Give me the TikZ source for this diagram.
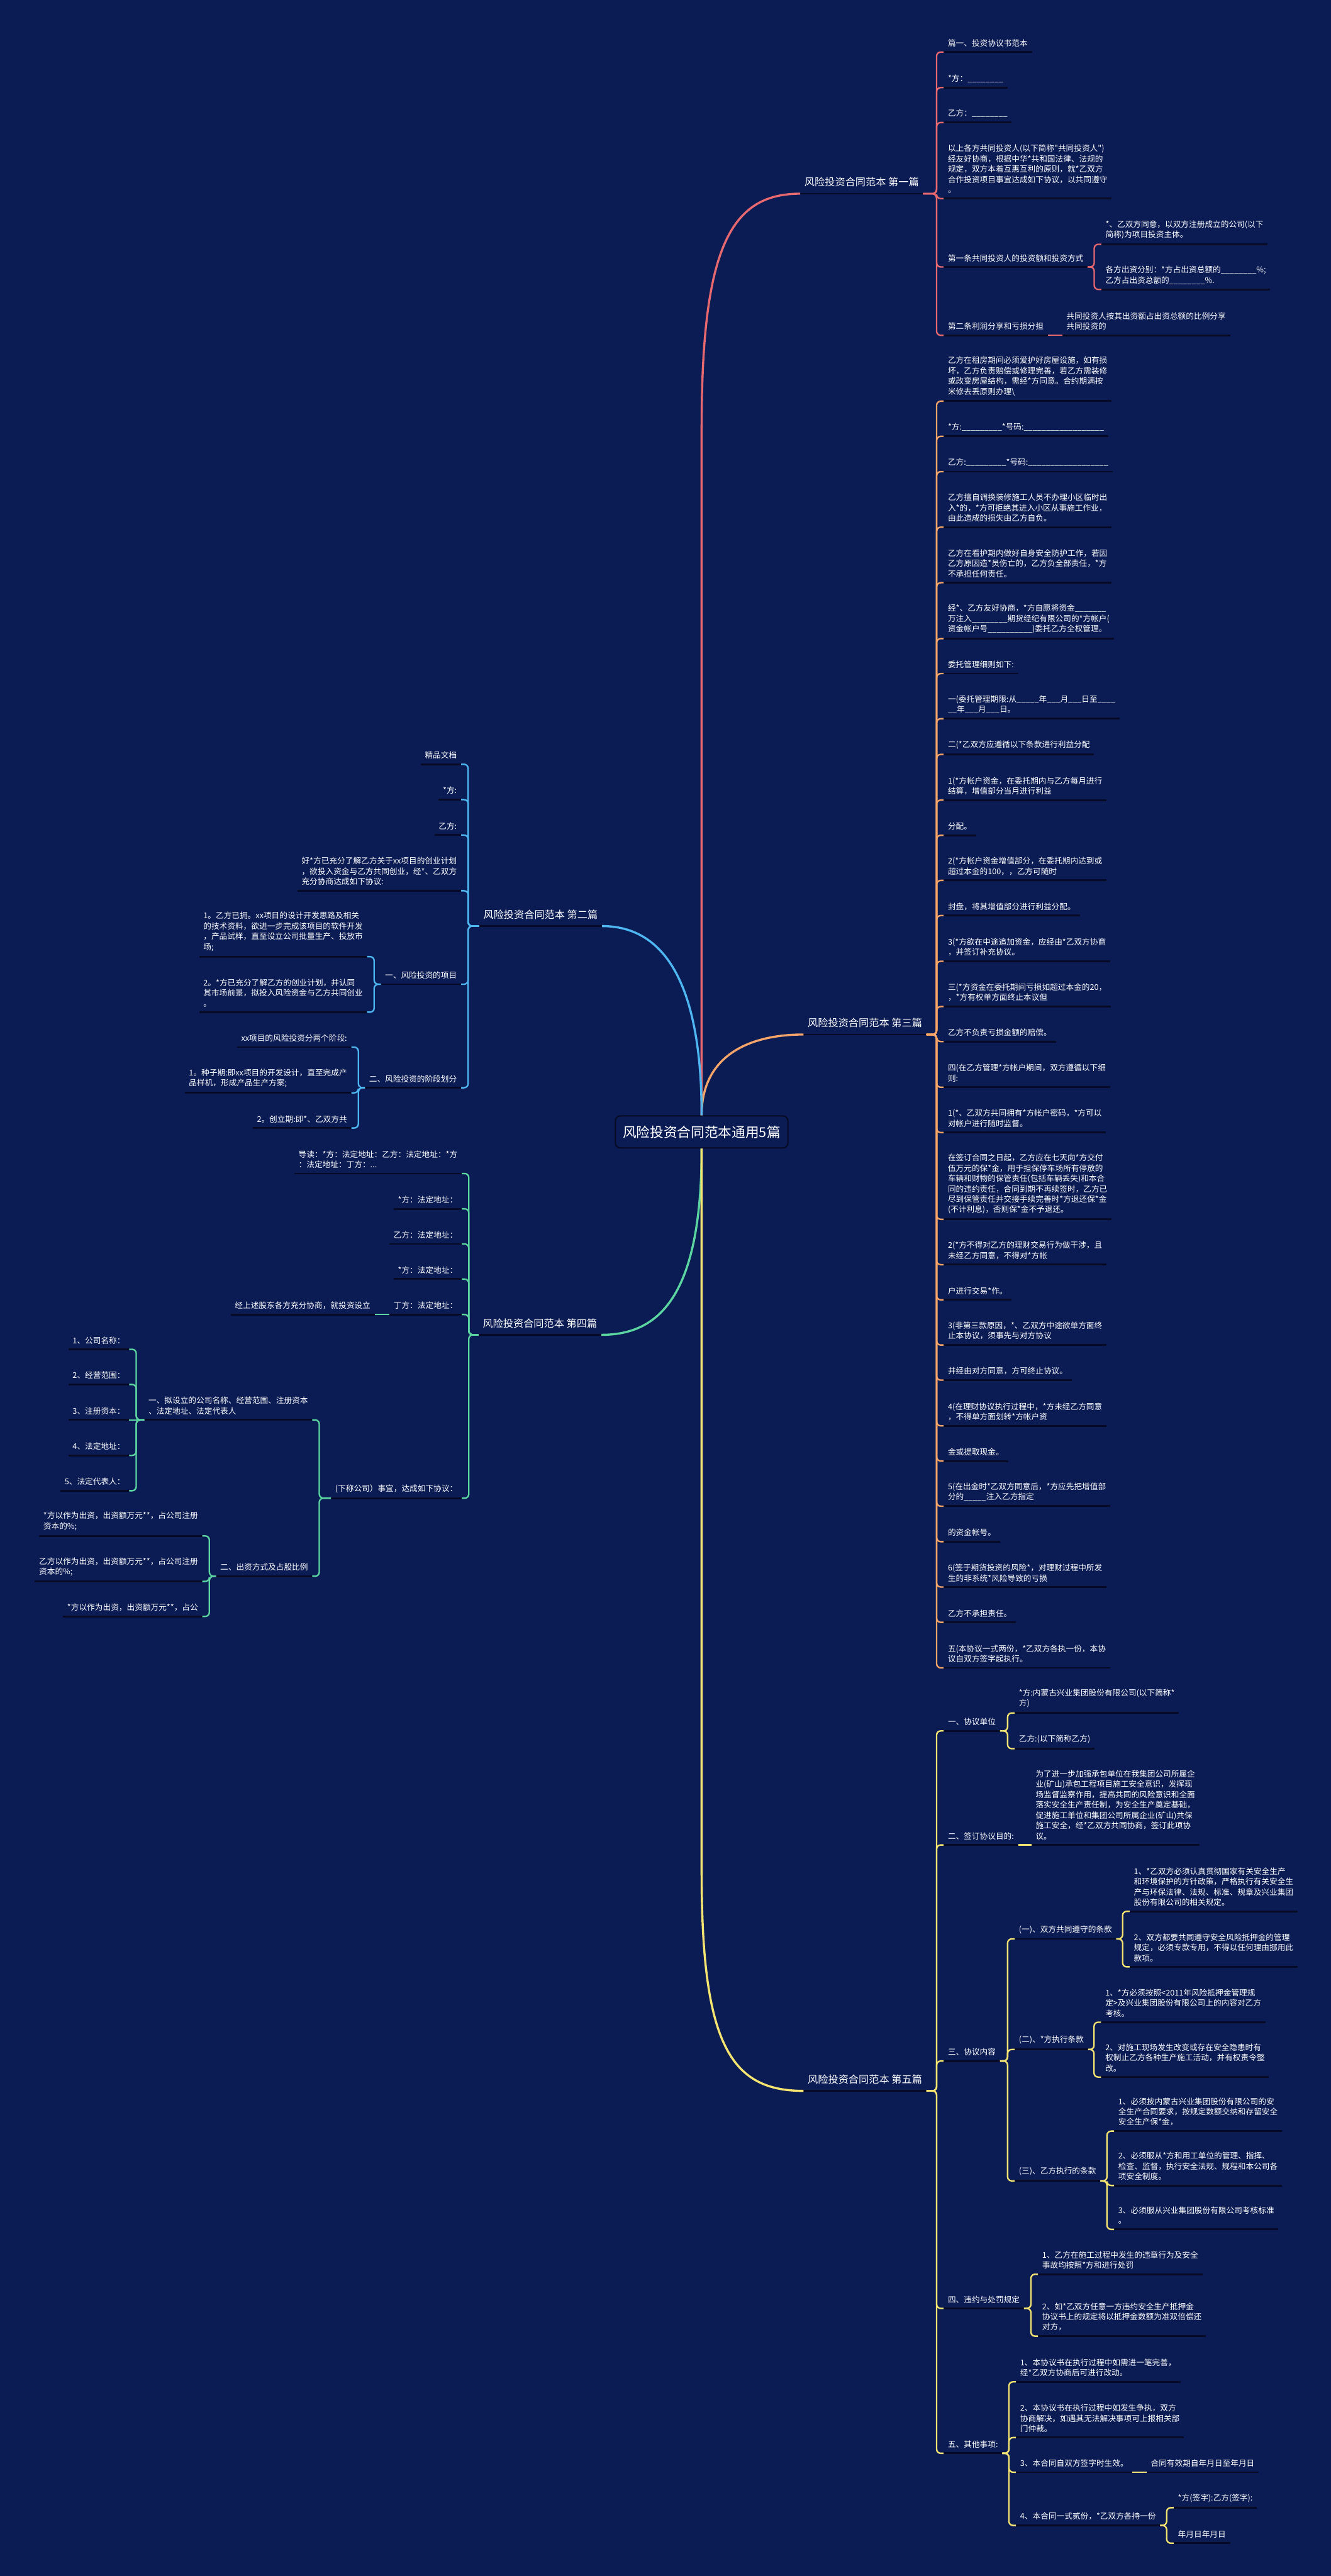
\documentclass[tikz,border=0pt]{standalone}
\usepackage{fontspec}
\newfontfamily\cjk{Noto Sans CJK SC}
\definecolor{bg}{RGB}{11,28,84}
\definecolor{ulc}{RGB}{6,10,36}
\definecolor{col1}{RGB}{232,104,112}
\definecolor{col2}{RGB}{78,182,240}
\definecolor{col3}{RGB}{246,164,104}
\definecolor{col4}{RGB}{92,214,160}
\definecolor{col5}{RGB}{246,228,112}
\newcommand\conR[3]{\draw[#1] (#2.south east) -| ([xshift=-4.3pt]#3.south west) -- (#3.south west);}
\newcommand\conL[3]{\draw[#1] (#2.south west) -| ([xshift=4.3pt]#3.south east) -- (#3.south east);}
\newcommand\conSR[3]{\draw[#1] (#2.south east) -- (#3.south west);}
\newcommand\conSL[3]{\draw[#1] (#2.south west) -- (#3.south east);}
\tikzset{
  ul/.style={draw=ulc,line width=1.1pt},
  txt/.style={font=\cjk\fontsize{4.85}{6.3}\selectfont,text=white,inner xsep=2.4pt,inner ysep=3pt,align=left,
     append after command={(\tikzlastnode.south west) edge[ul] (\tikzlastnode.south east)}},
  rnode/.style={txt,anchor=south west},
  lnode/.style={txt,anchor=south east},
  labtxt/.style={txt,font=\cjk\fontsize{6.2}{7.5}\selectfont,inner ysep=4pt},
  rlab/.style={labtxt,anchor=south west},
  llab/.style={labtxt,anchor=south east},
  titlebox/.style={draw=ulc,line width=0.8pt,fill=bg,rounded corners=3pt,minimum width=105pt,minimum height=19.5pt,inner sep=0pt,text=white,font=\cjk\fontsize{8.3}{10}\selectfont},
  c1/.style={draw=col1,line width=0.9pt,rounded corners=2.5pt},
  c2/.style={draw=col2,line width=0.9pt,rounded corners=2.5pt},
  c3/.style={draw=col3,line width=0.9pt,rounded corners=2.5pt},
  c4/.style={draw=col4,line width=0.9pt,rounded corners=2.5pt},
  c5/.style={draw=col5,line width=0.9pt,rounded corners=2.5pt},
  m1/.style={draw=col1,line width=1.3pt},
  m2/.style={draw=col2,line width=1.3pt},
  m3/.style={draw=col3,line width=1.3pt},
  m4/.style={draw=col4,line width=1.3pt},
  m5/.style={draw=col5,line width=1.3pt},
}
\begin{document}
\begin{tikzpicture}[x=1pt,y=-1pt]
\fill[bg] (0,0) rectangle (810,1568);
\useasboundingbox (0,0) rectangle (810,1568);

% title
\node[titlebox] (title) at (427,689) {风险投资合同范本通用5篇};

% ---------------- branch 1
\node[rlab] (b1) at (487,117.9) {风险投资合同范本 第一篇};
\node[rnode] (b1a) at (574.3,31.7) {篇一、投资协议书范本};
\node[rnode] (b1b) at (574.3,53.3) {*方：\_\_\_\_\_\_\_\_};
\node[rnode] (b1c) at (574.3,74.6) {乙方：\_\_\_\_\_\_\_\_};
\node[rnode] (b1d) at (574.3,120.9) {以上各方共同投资人(以下简称"共同投资人")\\经友好协商，根据中华*共和国法律、法规的\\规定，双方本着互惠互利的原则，就*乙双方\\合作投资项目事宜达成如下协议，以共同遵守\\。};
\node[rnode] (b1e) at (574.3,162.5) {第一条共同投资人的投资额和投资方式};
\node[rnode] (b1e1) at (670.2,148.7) {*、乙双方同意，以双方注册成立的公司(以下\\简称)为项目投资主体。};
\node[rnode] (b1e2) at (670.2,176.2) {各方出资分别：*方占出资总额的\_\_\_\_\_\_\_\_\%;\\乙方占出资总额的\_\_\_\_\_\_\_\_\%.};
\node[rnode] (b1f) at (574.3,204.1) {第二条利润分享和亏损分担};
\node[rnode] (b1f1) at (646.4,204.1) {共同投资人按其出资额占出资总额的比例分享\\共同投资的};

% ---------------- branch 2
\node[llab] (b2) at (366.4,563.7) {风险投资合同范本 第二篇};
\node[lnode] (b2a) at (280.6,465.2) {精品文档};
\node[lnode] (b2b) at (280.6,486.7) {*方:};
\node[lnode] (b2c) at (280.6,508.3) {乙方:};
\node[lnode] (b2d) at (280.6,542.2) {好*方已充分了解乙方关于xx项目的创业计划\\，欲投入资金与乙方共同创业，经*、乙双方\\充分协商达成如下协议:};
\node[lnode] (b2e) at (280.6,599.1) {一、风险投资的项目};
\node[lnode] (b2e1) at (223.4,582.3) {1。乙方已拥。xx项目的设计开发思路及相关\\的技术资料，欲进一步完成该项目的软件开发\\，产品试样，直至设立公司批量生产、投放市\\场;};
\node[lnode] (b2e2) at (223.4,616.1) {2。*方已充分了解乙方的创业计划，并认同\\其市场前景，拟投入风险资金与乙方共同创业\\。};
\node[lnode] (b2f) at (280.6,662.1) {二、风险投资的阶段划分};
\node[lnode] (b2f1) at (213.8,637.4) {xx项目的风险投资分两个阶段:};
\node[lnode] (b2f2) at (213.8,665.2) {1。种子期:即xx项目的开发设计，直至完成产\\品样机，形成产品生产方案;};
\node[lnode] (b2f3) at (213.8,686.6) {2。创立期:即*、乙双方共};

% ---------------- branch 3
\node[rlab] (b3) at (489,629.7) {风险投资合同范本 第三篇};
\node[rnode] (b3n1) at (574.3,244.2) {乙方在租房期间必须爱护好房屋设施，如有损\\坏，乙方负责赔偿或修理完善，若乙方需装修\\或改变房屋结构，需经*方同意。合约期满按\\米修去丢原则办理\textbackslash};
\node[rnode] (b3n2) at (574.3,265.6) {*方:\_\_\_\_\_\_\_\_\_*号码:\_\_\_\_\_\_\_\_\_\_\_\_\_\_\_\_\_\_};
\node[rnode] (b3n3) at (574.3,287.1) {乙方:\_\_\_\_\_\_\_\_\_*号码:\_\_\_\_\_\_\_\_\_\_\_\_\_\_\_\_\_\_};
\node[rnode] (b3n4) at (574.3,320.9) {乙方擅自调换装修施工人员不办理小区临时出\\入*的，*方可拒绝其进入小区从事施工作业，\\由此造成的损失由乙方自负。};
\node[rnode] (b3n5) at (574.3,354.7) {乙方在看护期内做好自身安全防护工作，若因\\乙方原因造*员伤亡的，乙方负全部责任，*方\\不承担任何责任。};
\node[rnode] (b3n6) at (574.3,388.7) {经*、乙方友好协商，*方自愿将资金\_\_\_\_\_\_\_\\万注入\_\_\_\_\_\_\_\_期货经纪有限公司的*方帐户(\\资金帐户号\_\_\_\_\_\_\_\_\_\_)委托乙方全权管理。};
\node[rnode] (b3n7) at (574.3,410) {委托管理细则如下:};
\node[rnode] (b3n8) at (574.3,437.5) {一(委托管理期限:从\_\_\_\_\_年\_\_\_月\_\_\_日至\_\_\_\_\\\_\_年\_\_\_月\_\_\_日。};
\node[rnode] (b3n9) at (574.3,459.2) {二(*乙双方应遵循以下条款进行利益分配};
\node[rnode] (b3n10) at (574.3,487) {1(*方帐户资金，在委托期内与乙方每月进行\\结算，增值部分当月进行利益};
\node[rnode] (b3n11) at (574.3,508.4) {分配。};
\node[rnode] (b3n12) at (574.3,535.9) {2(*方帐户资金增值部分，在委托期内达到或\\超过本金的100，，乙方可随时};
\node[rnode] (b3n13) at (574.3,557.3) {封盘，将其增值部分进行利益分配。};
\node[rnode] (b3n14) at (574.3,585.1) {3(*方欲在中途追加资金，应经由*乙双方协商\\，并签订补充协议。};
\node[rnode] (b3n15) at (574.3,612.7) {三(*方资金在委托期间亏损如超过本金的20，\\，*方有权单方面终止本议但};
\node[rnode] (b3n16) at (574.3,634) {乙方不负责亏损金额的赔偿。};
\node[rnode] (b3n17) at (574.3,661.8) {四(在乙方管理*方帐户期间，双方遵循以下细\\则:};
\node[rnode] (b3n18) at (574.3,689.4) {1(*、乙双方共同拥有*方帐户密码，*方可以\\对帐户进行随时监督。};
\node[rnode] (b3n19) at (574.3,742.2) {在签订合同之日起，乙方应在七天向*方交付\\伍万元的保*金，用于担保停车场所有停放的\\车辆和财物的保管责任(包括车辆丢失)和本合\\同的违约责任，合同到期不再续签时，乙方已\\尽到保管责任并交接手续完善时*方退还保*金\\(不计利息)，否则保*金不予退还。};
\node[rnode] (b3n20) at (574.3,769.8) {2(*方不得对乙方的理财交易行为做干涉，且\\未经乙方同意，不得对*方帐};
\node[rnode] (b3n21) at (574.3,791.2) {户进行交易*作。};
\node[rnode] (b3n22) at (574.3,818.7) {3(非第三款原因，*、乙双方中途欲单方面终\\止本协议，须事先与对方协议};
\node[rnode] (b3n23) at (574.3,840.1) {并经由对方同意，方可终止协议。};
\node[rnode] (b3n24) at (574.3,867.9) {4(在理财协议执行过程中，*方未经乙方同意\\，不得单方面划转*方帐户资};
\node[rnode] (b3n25) at (574.3,889.3) {金或提取现金。};
\node[rnode] (b3n26) at (574.3,916.8) {5(在出金时*乙双方同意后，*方应先把增值部\\分的\_\_\_\_\_注入乙方指定};
\node[rnode] (b3n27) at (574.3,938.4) {的资金帐号。};
\node[rnode] (b3n28) at (574.3,966) {6(签于期货投资的风险*，对理财过程中所发\\生的非系统*风险导致的亏损};
\node[rnode] (b3n29) at (574.3,987.5) {乙方不承担责任。};
\node[rnode] (b3n30) at (574.3,1015.2) {五(本协议一式两份，*乙双方各执一份，本协\\议自双方签字起执行。};

% ---------------- branch 4
\node[llab] (b4) at (366,812.5) {风险投资合同范本 第四篇};
\node[lnode] (b4a) at (281,714.3) {导读：*方：法定地址：乙方：法定地址：*方\\：法定地址：丁方：...};
\node[lnode] (b4b) at (281,735.8) {*方：法定地址：};
\node[lnode] (b4c) at (281,757.2) {乙方：法定地址：};
\node[lnode] (b4d) at (281,778.6) {*方：法定地址：};
\node[lnode] (b4e) at (281,800.1) {丁方：法定地址：};
\node[lnode] (b4e1) at (228,800.1) {经上述股东各方充分协商，就投资设立};
\node[lnode] (b4f) at (281,911.9) {(下称公司）事宜，达成如下协议：};
\node[lnode] (b4f1) at (190,864.3) {一、拟设立的公司名称、经营范围、注册资本\\、法定地址、法定代表人};
\node[lnode] (b4f1a) at (78.6,821.3) {1、公司名称：};
\node[lnode] (b4f1b) at (78.6,842.7) {2、经营范围：};
\node[lnode] (b4f1c) at (78.6,864.3) {3、注册资本：};
\node[lnode] (b4f1d) at (78.6,885.9) {4、法定地址：};
\node[lnode] (b4f1e) at (78.6,907.4) {5、法定代表人：};
\node[lnode] (b4f2) at (190,959.4) {二、出资方式及占股比例};
\node[lnode] (b4f2a) at (123.1,934.9) {*方以作为出资，出资额万元**，占公司注册\\资本的\%;};
\node[lnode] (b4f2b) at (123.1,962.6) {乙方以作为出资，出资额万元**，占公司注册\\资本的\%;};
\node[lnode] (b4f2c) at (123.1,983.9) {*方以作为出资，出资额万元**，占公};

% ---------------- branch 5
\node[rlab] (b5) at (489,1272.7) {风险投资合同范本 第五篇};
\node[rnode] (b5a) at (574.3,1053.6) {一、协议单位};
\node[rnode] (b5a1) at (617.5,1042.7) {*方:内蒙古兴业集团股份有限公司(以下简称*\\方)};
\node[rnode] (b5a2) at (617.5,1064.4) {乙方:(以下简称乙方)};
\node[rnode] (b5b) at (574.3,1123) {二、签订协议目的:};
\node[rnode] (b5b1) at (627.7,1123) {为了进一步加强承包单位在我集团公司所属企\\业(矿山)承包工程项目施工安全意识，发挥现\\场监督监察作用，提高共同的风险意识和全面\\落实安全生产责任制，为安全生产奠定基础，\\促进施工单位和集团公司所属企业(矿山)共保\\施工安全，经*乙双方共同协商，签订此项协\\议。};
\node[rnode] (b5c) at (574.3,1254.5) {三、协议内容};
\node[rnode] (b5c1) at (617.5,1180.2) {(一)、双方共同遵守的条款};
\node[rnode] (b5c1a) at (687.5,1163.4) {1、*乙双方必须认真贯彻国家有关安全生产\\和环境保护的方针政策，严格执行有关安全生\\产与环保法律、法规、标准、规章及兴业集团\\股份有限公司的相关规定。};
\node[rnode] (b5c1b) at (687.5,1197.2) {2、双方都要共同遵守安全风险抵押金的管理\\规定，必须专款专用，不得以任何理由挪用此\\款项。};
\node[rnode] (b5c2) at (617.5,1247.5) {(二)、*方执行条款};
\node[rnode] (b5c2a) at (670.1,1230.9) {1、*方必须按照<2011年风险抵押金管理规\\定>及兴业集团股份有限公司上的内容对乙方\\考核。};
\node[rnode] (b5c2b) at (670.1,1264.3) {2、对施工现场发生改变或存在安全隐患时有\\权制止乙方各种生产施工活动，并有权责令整\\改。};
\node[rnode] (b5c3) at (617.5,1327.5) {(三)、乙方执行的条款};
\node[rnode] (b5c3a) at (678,1297.2) {1、必须按内蒙古兴业集团股份有限公司的安\\全生产合同要求，按规定数额交纳和存留安全\\安全生产保*金，};
\node[rnode] (b5c3b) at (678,1330.3) {2、必须服从*方和用工单位的管理、指挥、\\检查、监督，执行安全法规、规程和本公司各\\项安全制度。};
\node[rnode] (b5c3c) at (678,1357) {3、必须服从兴业集团股份有限公司考核标准\\。};
\node[rnode] (b5d) at (574.3,1405.1) {四、违约与处罚规定};
\node[rnode] (b5d1) at (631.7,1384.3) {1、乙方在施工过程中发生的违章行为及安全\\事故均按照*方和进行处罚};
\node[rnode] (b5d2) at (631.7,1422) {2、如*乙双方任意一方违约安全生产抵押金\\协议书上的规定将以抵押金数额为准双倍偿还\\对方，};
\node[rnode] (b5e) at (574.3,1493.3) {五、其他事项:};
\node[rnode] (b5e1) at (618.3,1449.8) {1、本协议书在执行过程中如需进一笔完善，\\经*乙双方协商后可进行改动。};
\node[rnode] (b5e2) at (618.3,1483.7) {2、本协议书在执行过程中如发生争执，双方\\协商解决，如遇其无法解决事项可上报相关部\\门仲裁。};
\node[rnode] (b5e3) at (618.3,1504.8) {3、本合同自双方签字时生效。};
\node[rnode] (b5e3a) at (697.8,1504.8) {合同有效期自年月日至年月日};
\node[rnode] (b5e4) at (618.3,1537.2) {4、本合同一式贰份，*乙双方各持一份};
\node[rnode] (b5e4a) at (714.3,1526.4) {*方(签字):乙方(签字):};
\node[rnode] (b5e4b) at (714.3,1548) {年月日年月日};

% ---------------- main connectors
\coordinate (r1) at (427,260);
\coordinate (y1) at (427,1140);
\draw[m1] (title.north) -- (r1) .. controls (427,150) and (445,117.9) .. (b1.south west);
\draw[m3] (title.north) .. controls +(0,-35) and +(-35,0) .. (b3.south west);
\draw[m2] (title.north) .. controls +(0,-69) and +(43.6,0) .. (b2.south east);
\draw[m4] (title.south) .. controls +(0,91.5) and +(34,0) .. (b4.south east);
\draw[m5] (title.south) -- (y1) .. controls (427,1245) and (445,1272.7) .. (b5.south west);

% branch 1 connectors
\foreach \n in {b1a,b1b,b1c,b1d,b1e,b1f} {\conR{c1}{b1}{\n}}
\conR{c1}{b1e}{b1e1}
\conR{c1}{b1e}{b1e2}
\conSR{c1}{b1f}{b1f1}

% branch 2 connectors
\foreach \n in {b2a,b2b,b2c,b2d,b2e,b2f} {\conL{c2}{b2}{\n}}
\conL{c2}{b2e}{b2e1}
\conL{c2}{b2e}{b2e2}
\foreach \n in {b2f1,b2f2,b2f3} {\conL{c2}{b2f}{\n}}

% branch 3 connectors
\foreach \i in {1,...,30} {\conR{c3}{b3}{b3n\i}}

% branch 4 connectors
\foreach \n in {b4a,b4b,b4c,b4d,b4e,b4f} {\conL{c4}{b4}{\n}}
\conSL{c4}{b4e}{b4e1}
\conL{c4}{b4f}{b4f1}
\conL{c4}{b4f}{b4f2}
\foreach \n in {b4f1a,b4f1b,b4f1d,b4f1e} {\conL{c4}{b4f1}{\n}}
\conSL{c4}{b4f1}{b4f1c}
\foreach \n in {b4f2a,b4f2b,b4f2c} {\conL{c4}{b4f2}{\n}}

% branch 5 connectors
\foreach \n in {b5a,b5b,b5c,b5d,b5e} {\conR{c5}{b5}{\n}}
\conR{c5}{b5a}{b5a1}
\conR{c5}{b5a}{b5a2}
\conSR{c5}{b5b}{b5b1}
\foreach \n in {b5c1,b5c2,b5c3} {\conR{c5}{b5c}{\n}}
\conR{c5}{b5c1}{b5c1a}
\conR{c5}{b5c1}{b5c1b}
\conR{c5}{b5c2}{b5c2a}
\conR{c5}{b5c2}{b5c2b}
\foreach \n in {b5c3a,b5c3b,b5c3c} {\conR{c5}{b5c3}{\n}}
\conR{c5}{b5d}{b5d1}
\conR{c5}{b5d}{b5d2}
\foreach \n in {b5e1,b5e2,b5e3,b5e4} {\conR{c5}{b5e}{\n}}
\conSR{c5}{b5e3}{b5e3a}
\conR{c5}{b5e4}{b5e4a}
\conR{c5}{b5e4}{b5e4b}
\end{tikzpicture}
\end{document}
